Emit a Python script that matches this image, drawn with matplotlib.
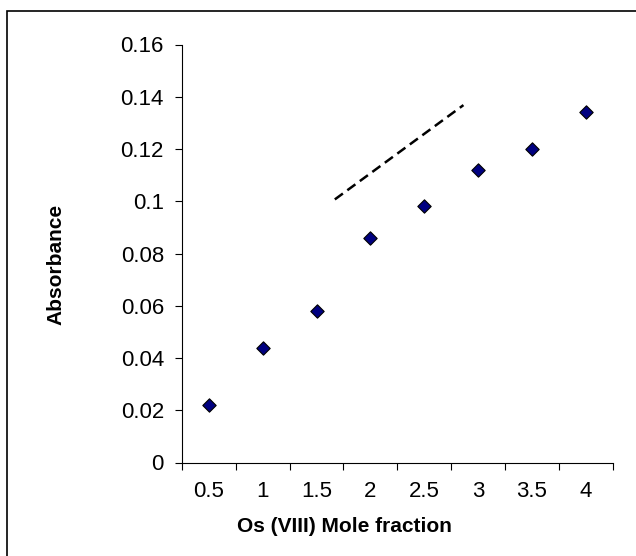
import matplotlib
matplotlib.use("Agg")
import matplotlib.pyplot as plt
from matplotlib.patches import Rectangle
from matplotlib.ticker import FixedLocator, NullFormatter

categories = ["0.5", "1", "1.5", "2", "2.5", "3", "3.5", "4"]
absorbance = [0.022, 0.044, 0.058, 0.086, 0.098, 0.112, 0.120, 0.134]
# dashed guide line (category-index coordinates, absorbance)
guide_x = [2.34, 4.73]
guide_y = [0.1007, 0.1368]
yticks = [0, 0.02, 0.04, 0.06, 0.08, 0.1, 0.12, 0.14, 0.16]

plt.rcParams['font.family'] = ['Liberation Sans', 'DejaVu Sans']

fig = plt.figure(figsize=(6.36, 5.56), dpi=100)
fig.patches.append(Rectangle((7/636, -0.02), 1.1, 1 - 11/556 + 0.02,
                             transform=fig.transFigure, fill=False,
                             edgecolor='black', linewidth=1.2, zorder=0))

ax = fig.add_axes([182/636, 1 - 462.5/556, 430.5/636, 418/556])
pos = list(range(len(categories)))
ax.plot(guide_x, guide_y, color='black', linewidth=1.8, dashes=(4, 2.2))
ax.scatter(pos, absorbance, marker='D', s=6.8**2, facecolor='#000080',
           edgecolor='black', linewidth=0.8, zorder=3)

ax.set_xlim(-0.5, len(categories) - 0.5)
ax.set_ylim(0, 0.16)
ax.set_yticks(yticks)
ax.set_yticklabels([f"{v:g}" for v in yticks])
ax.xaxis.set_major_locator(FixedLocator([i - 0.5 for i in range(len(categories) + 1)]))
ax.xaxis.set_major_formatter(NullFormatter())
ax.xaxis.set_minor_locator(FixedLocator(pos))
ax.set_xticklabels(categories, minor=True)

ax.tick_params(axis='x', which='major', direction='out', length=5, width=0.8, color='black')
ax.tick_params(axis='x', which='minor', length=0, pad=13, labelsize=16)
ax.tick_params(axis='y', direction='out', length=5, width=0.8, pad=8, labelsize=16)

for s in ['top', 'right']:
    ax.spines[s].set_visible(False)
for s in ['left', 'bottom']:
    ax.spines[s].set_linewidth(0.8)
    ax.spines[s].set_color('black')

fig.text(344/636, 1 - 527/556, "Os (VIII) Mole fraction", ha='center', va='center',
         fontsize=15, fontweight='bold')
fig.text(56/636, 1 - 264/556, "Absorbance", ha='center', va='center',
         rotation=90, fontsize=15, fontweight='bold')

fig.savefig("out.png", dpi=100)
